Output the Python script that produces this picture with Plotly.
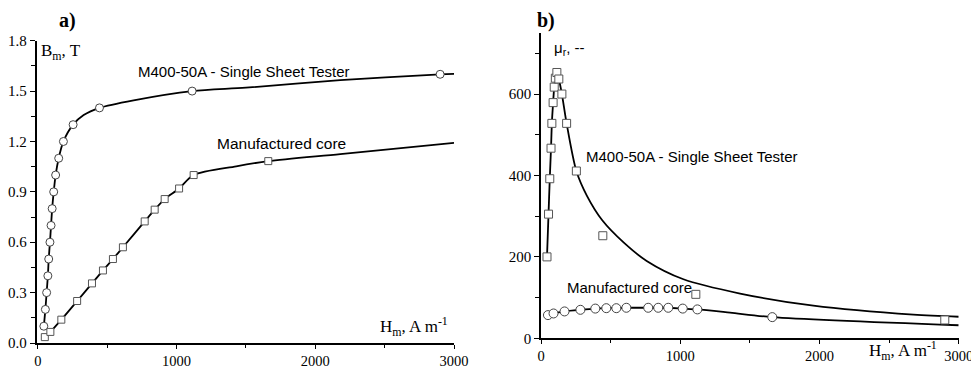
import plotly.graph_objects as go

# ---------------- data ----------------
# Panel a) B_m vs H_m
a_sst_H = [43, 54, 63, 72, 78, 87, 95, 103, 114, 128, 150, 184, 254, 444, 1112, 2900]
a_sst_B = [0.10, 0.20, 0.30, 0.40, 0.50, 0.60, 0.70, 0.80, 0.90, 1.00, 1.10, 1.20, 1.30, 1.40, 1.50, 1.60]
a_sst_fit_H = [43, 54, 63, 72, 78, 87, 95, 103, 114, 128, 150, 184, 254, 330, 444, 690, 1112, 1500, 2180, 2900, 3000]
a_sst_fit_B = [0.10, 0.20, 0.30, 0.40, 0.50, 0.60, 0.70, 0.80, 0.90, 1.00, 1.10, 1.20, 1.30, 1.357, 1.40, 1.445, 1.50, 1.52, 1.565, 1.60, 1.603]

a_core_H = [50, 90, 169, 283, 390, 469, 541, 613, 770, 842, 914, 1018, 1123, 1661]
a_core_B = [0.035, 0.066, 0.139, 0.25, 0.355, 0.432, 0.50, 0.57, 0.724, 0.794, 0.857, 0.92, 1.00, 1.083]
a_core_fit_H = [50, 90, 169, 283, 390, 469, 541, 613, 770, 842, 914, 1018, 1123, 1430, 1661, 2180, 3000]
a_core_fit_B = [0.035, 0.066, 0.139, 0.25, 0.355, 0.432, 0.50, 0.57, 0.724, 0.794, 0.857, 0.92, 1.00, 1.052, 1.083, 1.125, 1.192]

# Panel b) mu_r vs H_m
b_sst_H = [43, 54, 63, 72, 78, 87, 95, 103, 114, 128, 150, 184, 254, 444, 1112, 2900]
b_sst_mu = [200, 305, 392, 467, 528, 579, 617, 639, 653, 637, 600, 528, 411, 252, 108, 45]
b_sst_fit_H = [43, 54, 63, 72, 78, 87, 95, 103, 114, 128, 150, 184, 254, 330, 440, 595, 759, 1023, 1430, 1956, 2675, 3000]
b_sst_fit_mu = [200, 305, 392, 467, 528, 579, 617, 639, 653, 637, 600, 528, 411, 350, 290, 235, 190, 145, 110, 80, 58, 53]

b_core_H = [50, 90, 169, 283, 390, 469, 541, 613, 770, 842, 914, 1018, 1123, 1661]
b_core_mu = [57, 61, 66, 70, 73, 74, 74, 75, 75, 75, 75, 73, 71, 52]
b_core_fit_H = [50, 90, 169, 283, 390, 469, 541, 613, 770, 842, 914, 1018, 1123, 1358, 1661, 3000]
b_core_fit_mu = [57, 61, 66, 70, 73, 74, 74, 75, 75, 75, 75, 73, 71, 63, 52, 32]

x_ticks = [0, 1000, 2000, 3000]
a_y_ticks = [0.0, 0.3, 0.6, 0.9, 1.2, 1.5, 1.8]
a_y_labels = ["0.0", "0.3", "0.6", "0.9", "1.2", "1.5", "1.8"]
b_y_ticks = [0, 200, 400, 600]

# ---------------- figure ----------------
# The page body has an 8 px margin, so the figure is placed at (8, 8) in a 979x369 window.
OFF = 8
W, H = 979 - OFF, 369 - OFF
def PX(x):
    return (x - OFF) / W
def PY(y):
    return (369 - y) / H

SERIF = "Liberation Serif"
SANS = "Liberation Sans"

fig = go.Figure()

line_style = dict(color="black", width=1.8, shape="spline", smoothing=0.8)
circ = dict(symbol="circle", size=8, color="white", line=dict(color="#444444", width=1))
sq = dict(symbol="square", size=7, color="white", line=dict(color="#555555", width=1))
sq_b = dict(symbol="square", size=8, color="white", line=dict(color="#555555", width=1))
circ_b = dict(symbol="circle", size=9, color="white", line=dict(color="#444444", width=1))

# panel a
fig.add_trace(go.Scatter(x=a_sst_fit_H, y=a_sst_fit_B, mode="lines", line=line_style, xaxis="x", yaxis="y", hoverinfo="skip"))
fig.add_trace(go.Scatter(x=a_core_fit_H, y=a_core_fit_B, mode="lines", line=line_style, xaxis="x", yaxis="y", hoverinfo="skip"))
fig.add_trace(go.Scatter(x=a_sst_H, y=a_sst_B, mode="markers", marker=circ, xaxis="x", yaxis="y"))
fig.add_trace(go.Scatter(x=a_core_H, y=a_core_B, mode="markers", marker=sq, xaxis="x", yaxis="y"))

# panel b
fig.add_trace(go.Scatter(x=b_sst_fit_H, y=b_sst_fit_mu, mode="lines", line=line_style, xaxis="x2", yaxis="y2", hoverinfo="skip"))
fig.add_trace(go.Scatter(x=b_core_fit_H, y=b_core_fit_mu, mode="lines", line=line_style, xaxis="x2", yaxis="y2", hoverinfo="skip"))
fig.add_trace(go.Scatter(x=b_sst_H, y=b_sst_mu, mode="markers", marker=sq_b, xaxis="x2", yaxis="y2"))
fig.add_trace(go.Scatter(x=b_core_H, y=b_core_mu, mode="markers", marker=circ_b, xaxis="x2", yaxis="y2"))

axis_common = dict(
    showline=True, linecolor="black", linewidth=1.5, mirror=False,
    showgrid=False, zeroline=False, automargin=False,
    ticks="outside", tickwidth=1.2, tickcolor="black",
)
yfont = dict(family=SERIF, size=15, color="black")
xfont = dict(family=SERIF, size=14.5, color="black")

fig.update_layout(
    template="none",
    width=W, height=H,
    margin=dict(l=0, r=0, t=0, b=0, pad=0),
    paper_bgcolor="white", plot_bgcolor="white",
    showlegend=False,
    xaxis=dict(domain=[PX(36.5), PX(454)], range=[-10, 3000], anchor="y",
               tickvals=x_ticks, ticklen=4, tickfont=xfont,
               minor=dict(dtick=500, ticks="outside", ticklen=3, tickcolor="black", tickwidth=1),
               **axis_common),
    yaxis=dict(domain=[PY(343), PY(40.7)], range=[0, 1.8], anchor="x",
               tickvals=a_y_ticks, ticktext=a_y_labels, ticklen=5, tickfont=yfont,
               minor=dict(dtick=0.15, ticks="outside", ticklen=4, tickcolor="black", tickwidth=1),
               **axis_common),
    xaxis2=dict(domain=[PX(541), PX(958.7)], range=[0, 3000], anchor="y2",
                tickvals=x_ticks, ticklen=4, tickfont=xfont,
                minor=dict(dtick=500, ticks="outside", ticklen=3, tickcolor="black", tickwidth=1),
                **axis_common),
    yaxis2=dict(domain=[PY(338.3), PY(33)], range=[0, 750], anchor="x2",
                tickvals=b_y_ticks, ticklen=5, tickfont=yfont,
                minor=dict(dtick=100, ticks="outside", ticklen=4, tickcolor="black", tickwidth=1),
                **axis_common),
)

def ann(text, x, y, font, xanchor="left", yanchor="middle", borderpad=1):
    fig.add_annotation(text=text, x=PX(x), y=PY(y), xref="paper", yref="paper",
                       xanchor=xanchor, yanchor=yanchor, showarrow=False, font=font,
                       borderpad=borderpad)

sans15 = dict(family=SANS, size=15, color="black")
serif17 = dict(family=SERIF, size=17, color="black")
bold = dict(family=SERIF, size=20, color="black")

ann("<b>a)</b>", 58, 8, bold, yanchor="top", borderpad=0)
ann("<b>b)</b>", 536, 8, bold, yanchor="top", borderpad=0)
ann("B<sub>m</sub>, T", 39, 52, serif17)
ann("H<sub>m</sub>, A m<sup>-1</sup>", 378, 326, serif17)
ann("H<sub>m</sub>, A m<sup>-1</sup>", 867, 350, serif17)
ann("μ<sub>r</sub>, --", 552, 48, sans15)
ann("M400-50A - Single Sheet Tester", 136, 71, sans15)
ann("Manufactured core", 215, 144, dict(family=SANS, size=15.5, color="black"))
ann("M400-50A - Single Sheet Tester", 584, 157, sans15)
ann("Manufactured core", 565, 287, sans15)

fig.write_html("out.html")
